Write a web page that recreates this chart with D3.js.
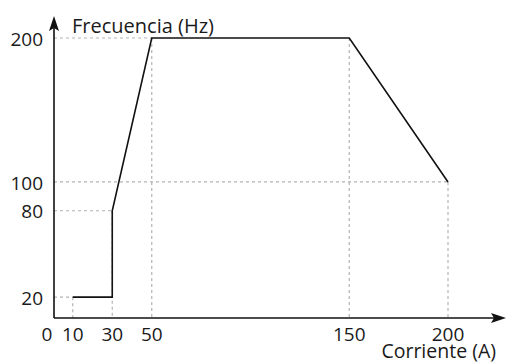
<!DOCTYPE html>
<html>
<head>
<meta charset="utf-8">
<script src="https://cdn.jsdelivr.net/npm/d3@7"></script>
<style>
  html, body { margin: 0; padding: 0; background: #fff; }
  svg { display: block; font-family: "Open Sans", sans-serif; }
</style>
</head>
<body>
<svg id="chart" width="507" height="363"></svg>
<script>
// Frequency vs. current profile
const current   = [10, 30, 30, 50, 150, 200];
const frequency = [20, 20, 80, 200, 200, 100];
const xTicks = [0, 10, 30, 50, 150, 200];
const yTicks = [20, 80, 100, 200];
const xTitle = "Corriente (A)";
const yTitle = "Frecuencia (Hz)";

const svg = d3.select("#chart");
const originX = 54, originY = 318;

const x = d3.scaleLinear().domain([0, 200]).range([53, 448]);
const y = d3.scaleLinear().domain([5.5, 200]).range([originY, 38]);

const pts = current.map((c, i) => ({ c, f: frequency[i] }));

// dashed guide lines from the profile corners to both axes
const guides = svg.append("g")
  .attr("stroke", "#b3b3b3")
  .attr("stroke-width", 1.2)
  .attr("stroke-dasharray", "3,3")
  .attr("fill", "none");

// horizontal guides: from the y axis to the first point at each level
yTicks.forEach(v => {
  const xs = pts.filter(p => p.f === v).map(p => p.c);
  const reach = v === 100 ? 200 : d3.min(xs);
  guides.append("line")
    .attr("x1", originX).attr("x2", x(reach))
    .attr("y1", y(v)).attr("y2", y(v));
});

// vertical guides: from the highest point at each tick down to the x axis
xTicks.filter(t => t > 0).forEach(t => {
  const fs = pts.filter(p => p.c === t).map(p => p.f);
  guides.append("line")
    .attr("x1", x(t)).attr("x2", x(t))
    .attr("y1", y(d3.max(fs))).attr("y2", originY);
});

// axes with arrow heads
const axes = svg.append("g").attr("stroke", "#111").attr("stroke-width", 1.6);
axes.append("line").attr("x1", originX).attr("x2", 497).attr("y1", originY).attr("y2", originY);
axes.append("line").attr("x1", originX).attr("x2", originX).attr("y1", originY).attr("y2", 26);
svg.append("path").attr("fill", "#111")
  .attr("d", `M506,${originY} L491,${originY - 5} L494,${originY} L491,${originY + 5} Z`);
svg.append("path").attr("fill", "#111")
  .attr("d", `M${originX},16 L${originX - 5},31 L${originX},28 L${originX + 5},31 Z`);

// profile line
svg.append("path")
  .datum(pts)
  .attr("fill", "none")
  .attr("stroke", "#111")
  .attr("stroke-width", 1.6)
  .attr("stroke-linejoin", "miter")
  .attr("d", d3.line().x(d => x(d.c)).y(d => y(d.f)));

// tick labels
const txt = svg.append("g").attr("fill", "#1a1a1a").attr("font-size", 19);
txt.selectAll("text.yt").data(yTicks).join("text")
  .attr("class", "yt")
  .attr("x", 43).attr("y", d => y(d))
  .attr("dy", "0.4em")
  .attr("text-anchor", "end")
  .text(d => d);
txt.selectAll("text.xt").data(xTicks).join("text")
  .attr("class", "xt")
  .attr("x", d => d === 0 ? x(d) - 6 : x(d))
  .attr("y", 341)
  .attr("text-anchor", "middle")
  .text(d => d);

// axis titles
txt.append("text").attr("x", 72).attr("y", 33).attr("font-size", 20).text(yTitle);
txt.append("text").attr("x", 496).attr("y", 358).attr("font-size", 19.5)
  .attr("text-anchor", "end").text(xTitle);
</script>
</body>
</html>
